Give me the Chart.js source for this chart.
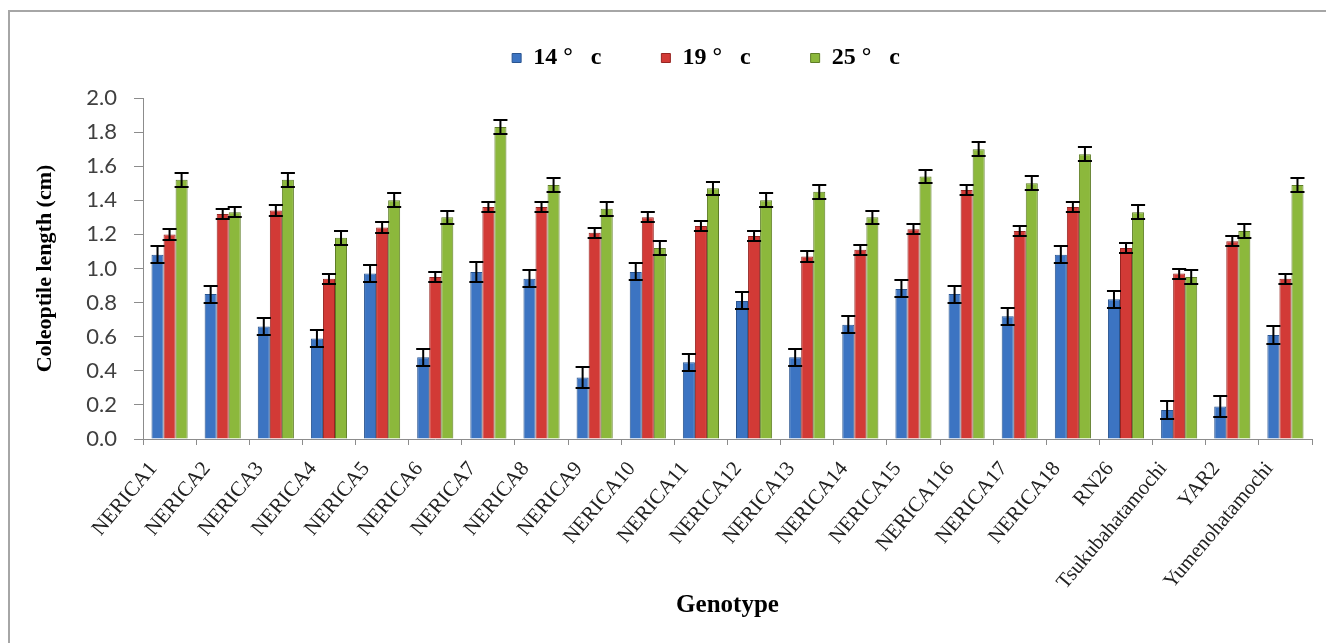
<!DOCTYPE html>
<html>
<head>
<meta charset="utf-8">
<title>Coleoptile length</title>
<script src="https://cdn.jsdelivr.net/npm/chart.js@4.4.1/dist/chart.umd.min.js"></script>
<style>
    body { margin: 0; background: #fff; }
    #frame { position: absolute; left: 8px; top: 10px; width: 1400px; height: 700px;
             border-left: 2px solid #a6a6a6; border-top: 2px solid #a6a6a6; }
    #wrap { position: absolute; left: 0; top: 0; width: 1326px; height: 643px; }
</style>
</head>
<body>
<div id="frame"></div>
<div id="wrap"><canvas id="myChart" width="1326" height="643"></canvas></div>
<script>
const genotypes = ['NERICA1', 'NERICA2', 'NERICA3', 'NERICA4', 'NERICA5', 'NERICA6', 'NERICA7',
    'NERICA8', 'NERICA9', 'NERICA10', 'NERICA11', 'NERICA12', 'NERICA13', 'NERICA14', 'NERICA15',
    'NERICA116', 'NERICA17', 'NERICA18', 'RN26', 'Tsukubahatamochi', 'YAR2', 'Yumenohatamochi'];
const seriesLabels = ['14 °   c', '19 °   c', '25 °   c'];

// coleoptile length (cm)
const len14 = [1.08, 0.85, 0.66, 0.59, 0.97, 0.48, 0.98, 0.94, 0.36, 0.98, 0.45,
    0.81, 0.48, 0.67, 0.88, 0.85, 0.72, 1.08, 0.82, 0.17, 0.19, 0.61];
const len19 = [1.20, 1.32, 1.34, 0.94, 1.24, 0.95, 1.36, 1.36, 1.21, 1.30, 1.25,
    1.19, 1.07, 1.11, 1.23, 1.46, 1.22, 1.36, 1.12, 0.97, 1.16, 0.94];
const len25 = [1.52, 1.33, 1.52, 1.18, 1.40, 1.30, 1.83, 1.49, 1.35, 1.12, 1.47,
    1.40, 1.45, 1.30, 1.54, 1.70, 1.50, 1.67, 1.33, 0.95, 1.22, 1.49];

// error bar half-lengths
const err14 = [0.05, 0.05, 0.05, 0.05, 0.05, 0.05, 0.06, 0.05, 0.06, 0.05, 0.05,
    0.05, 0.05, 0.05, 0.05, 0.05, 0.05, 0.05, 0.05, 0.05, 0.06, 0.05];
const err19 = [0.03, 0.03, 0.03, 0.03, 0.03, 0.03, 0.03, 0.03, 0.03, 0.03, 0.03,
    0.03, 0.03, 0.03, 0.03, 0.03, 0.03, 0.03, 0.03, 0.03, 0.03, 0.03];
const err25 = [0.04, 0.03, 0.04, 0.04, 0.04, 0.04, 0.04, 0.04, 0.04, 0.04, 0.04,
    0.04, 0.04, 0.04, 0.04, 0.04, 0.04, 0.04, 0.04, 0.04, 0.04, 0.04];

const yTicks = [0, 0.2, 0.4, 0.6, 0.8, 1.0, 1.2, 1.4, 1.6, 1.8, 2.0];
const yTickLabels = ['0.0', '0.2', '0.4', '0.6', '0.8', '1.0', '1.2', '1.4', '1.6', '1.8', '2.0'];

// draws the black error bars on top of each bar
const errorBars = {
    id: 'errorBars',
    afterDatasetsDraw(chart) {
        const ctx = chart.ctx;
        const yScale = chart.scales.y;
        ctx.save();
        ctx.strokeStyle = '#000';
        ctx.lineWidth = 2;
        chart.data.datasets.forEach((ds, i) => {
            chart.getDatasetMeta(i).data.forEach((bar, j) => {
                const v = ds.data[j];
                const e = ds.errors[j];
                const top = Math.round(yScale.getPixelForValue(v + e));
                const bot = Math.round(yScale.getPixelForValue(v - e));
                const half = bar.width / 2 + 1;
                ctx.beginPath();
                ctx.moveTo(bar.x, top);
                ctx.lineTo(bar.x, bot);
                ctx.moveTo(bar.x - half, top);
                ctx.lineTo(bar.x + half, top);
                ctx.moveTo(bar.x - half, bot);
                ctx.lineTo(bar.x + half, bot);
                ctx.stroke();
            });
        });
        ctx.restore();
    }
};

// fixed legend height so the plot starts where the original does,
// and the row nudged right like in the original
const legendHeight = {
    id: 'legendHeight',
    beforeInit(chart) {
        const fit = chart.legend.fit;
        chart.legend.fit = function () {
            fit.call(this);
            this.height = 112;
            this.lineWidths = this.lineWidths.map(w => w - 100);
        };
    }
};

function makeChart() {
    const ctx = document.getElementById('myChart').getContext('2d');
    new Chart(ctx, {
        type: 'bar',
        data: {
            labels: genotypes,
            datasets: [
                {
                    label: seriesLabels[0],
                    data: len14,
                    errors: err14,
                    backgroundColor: '#3c74c2',
                    borderColor: '#2a5590',
                    borderWidth: 1
                },
                {
                    label: seriesLabels[1],
                    data: len19,
                    errors: err19,
                    backgroundColor: '#d23a36',
                    borderColor: '#962522',
                    borderWidth: 1
                },
                {
                    label: seriesLabels[2],
                    data: len25,
                    errors: err25,
                    backgroundColor: '#8cb83c',
                    borderColor: '#5e7d26',
                    borderWidth: 1
                }
            ]
        },
        options: {
            responsive: false,
            animation: false,
            categoryPercentage: 0.68,
            barPercentage: 1.0,
            layout: {
                padding: { left: 0, top: -14, right: 14, bottom: 0 }
            },
            plugins: {
                legend: {
                    position: 'top',
                    labels: {
                        boxWidth: 9,
                        boxHeight: 9,
                        padding: 60,
                        color: '#000',
                        font: { family: 'Liberation Serif', size: 24, weight: 'bold' }
                    }
                },
                tooltip: { enabled: false }
            },
            scales: {
                x: {
                    grid: {
                        display: true,
                        drawOnChartArea: false,
                        offset: true,
                        tickLength: 6,
                        color: '#8c8c8c'
                    },
                    border: { color: '#8c8c8c' },
                    ticks: {
                        minRotation: 50,
                        maxRotation: 50,
                        autoSkip: false,
                        padding: 12,
                        labelOffset: -16,
                        color: '#222',
                        font: { family: 'Liberation Serif', size: 21 }
                    },
                    title: {
                        display: true,
                        text: 'Genotype',
                        color: '#000',
                        padding: { top: 0, bottom: 22 },
                        font: { family: 'Liberation Serif', size: 25, weight: 'bold' }
                    },
                    afterFit: s => { s.height = 204; }
                },
                y: {
                    min: 0,
                    max: 2,
                    afterBuildTicks: s => { s.ticks = yTicks.map(v => ({ value: v })); },
                    grid: {
                        display: true,
                        drawOnChartArea: false,
                        tickLength: 9,
                        color: '#8c8c8c'
                    },
                    border: { color: '#8c8c8c' },
                    ticks: {
                        padding: 17,
                        color: '#404040',
                        font: { family: 'Lato', size: 22 },
                        callback: (v, i) => yTickLabels[i]
                    },
                    title: {
                        display: true,
                        text: 'Coleoptile length (cm)',
                        color: '#000',
                        padding: { top: 32, bottom: 0 },
                        font: { family: 'Liberation Serif', size: 22, weight: 'bold' }
                    },
                    afterFit: s => { s.width = 143; }
                }
            }
        },
        plugins: [errorBars, legendHeight]
    });
}

document.addEventListener('DOMContentLoaded', makeChart);
</script>
</body>
</html>
